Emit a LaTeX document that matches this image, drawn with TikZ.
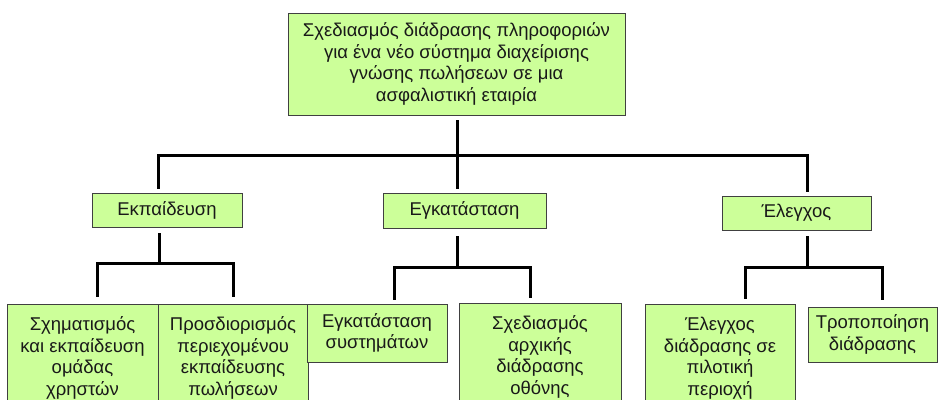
\documentclass[tikz,border=0pt]{standalone}
\usepackage{fontspec}
\setmainfont{Liberation Sans}
\begin{document}
\begin{tikzpicture}[x=1pt,y=-1pt,
  box/.style={draw=black!75, line width=0.9pt, fill=boxgreen, inner sep=0pt,
    align=center, font=\fontsize{18.5}{21.5}\selectfont, text=black!90},
  conn/.style={draw=black, line width=3pt, line join=miter}]
\definecolor{boxgreen}{HTML}{CCFF99}
\useasboundingbox (0,0) rectangle (939,399);
\clip (0,0) rectangle (939,399);

% root
\node[box, minimum width=337pt, minimum height=102pt] (root) at (456.5,64)
  {Σχεδιασμός διάδρασης πληροφοριών\\για ένα νέο σύστημα διαχείρισης\\γνώσης πωλήσεων σε μια\\ασφαλιστική εταιρία};

% second level
\node[box, minimum width=150pt, minimum height=34pt] (train) at (167,210) {Εκπαίδευση};
\node[box, minimum width=163pt, minimum height=35pt] (inst) at (464.5,210.5) {Εγκατάσταση};
\node[box, minimum width=149pt, minimum height=34pt] (check) at (796.5,213) {Έλεγχος};

% third level
\node[box, minimum width=151pt, minimum height=108pt] (team) at (82.5,358)
  {Σχηματισμός\\και εκπαίδευση\\ομάδας\\χρηστών};
\node[box, minimum width=150pt, minimum height=108pt] (content) at (233,358)
  {Προσδιορισμός\\περιεχομένου\\εκπαίδευσης\\πωλήσεων};
\node[box, minimum width=140pt, minimum height=58pt] (sys) at (377,333)
  {Εγκατάσταση\\συστημάτων};
\node[box, minimum width=162pt, minimum height=108pt] (screen) at (540,357)
  {Σχεδιασμός\\αρχικής\\διάδρασης\\οθόνης};
\node[box, minimum width=150pt, minimum height=108pt] (pilot) at (720,358)
  {Έλεγχος\\διάδρασης σε\\πιλοτική\\περιοχή};
\node[box, minimum width=129pt, minimum height=55pt] (modify) at (872.5,334.5)
  {Τροποποίηση\\διάδρασης};

% bus junctions
\coordinate (busL) at (158,155);
\coordinate (busM) at (457,155);
\coordinate (busR) at (807,155);
\coordinate (jt) at (159,263);
\coordinate (ji) at (457,267);
\coordinate (jc) at (807,267);

% root to second level
\draw[conn, shorten <=5pt] (root.south -| busM) -- (busM);
\draw[conn, shorten <=4pt, shorten >=4pt] (train.north -| busL) -- (busL) -- (busR) -- (check.north -| busR);
\draw[conn, shorten >=4pt] (busM) -- (inst.north -| busM);

% Εκπαίδευση branch
\draw[conn, shorten <=6pt] (train.south -| jt) -- (jt);
\draw[conn, shorten <=7pt, shorten >=7pt] (team.north -| 97,0) -- (97,263) -- (233,263) -- (content.north -| 233,0);

% Εγκατάσταση branch
\draw[conn, shorten <=8pt] (inst.south -| ji) -- (ji);
\draw[conn, shorten <=4pt, shorten >=5pt] (sys.north -| 394,0) -- (394,267) -- (530,267) -- (screen.north -| 530,0);

% Έλεγχος branch
\draw[conn, shorten <=6pt] (check.south -| jc) -- (jc);
\draw[conn, shorten <=5pt, shorten >=7pt] (pilot.north -| 745,0) -- (745,267) -- (882,267) -- (modify.north -| 882,0);
\end{tikzpicture}
\end{document}
